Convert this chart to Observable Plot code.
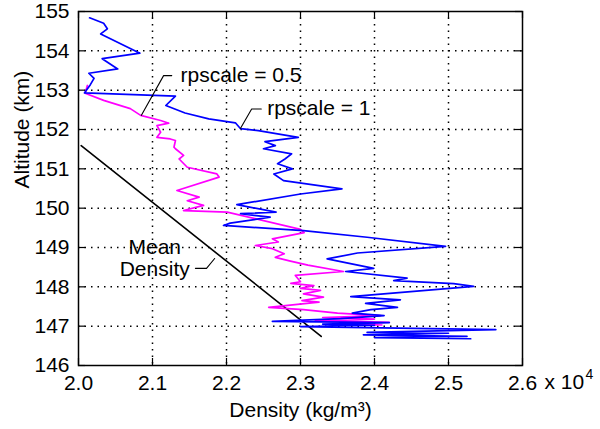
<!DOCTYPE html>
<html>
<head>
<meta charset="utf-8">
<script src="https://cdn.jsdelivr.net/npm/d3@7"></script>
<script src="https://cdn.jsdelivr.net/npm/@observablehq/plot@0.6"></script>
<style>
  html, body { margin: 0; padding: 0; background: white; }
</style>
</head>
<body>
<div id="chart"></div>
<script>
// Tick values
const xTicks = [2.0, 2.1, 2.2, 2.3, 2.4, 2.5, 2.6];
const yTicks = [146, 147, 148, 149, 150, 151, 152, 153, 154, 155];
const xGrid = [2.1, 2.2, 2.3, 2.4, 2.5];
const yGrid = [147, 148, 149, 150, 151, 152, 153, 154];

// rpscale = 1 (blue) : density (x10^4 kg/m^3), altitude (km)
const blueDensity = [2.015,2.034,2.039,2.030,2.083,2.032,2.053,2.014,2.021,2.016,2.008,
  2.131,2.118,2.144,2.176,2.212,2.219,2.243,2.297,2.252,2.266,2.250,2.288,2.279,2.269,
  2.289,2.264,2.277,2.356,2.300,2.214,2.267,2.219,2.259,2.205,2.196,2.304,2.390,2.496,
  2.377,2.336,2.399,2.361,2.444,2.426,2.507,2.534,2.368,2.435,2.388,2.431,2.395,2.370,
  2.413,2.354,2.262,2.420,2.330,2.400,2.300,2.564,2.390,2.500,2.385,2.525,2.400,2.530];
const blueAltitude = [154.84,154.70,154.56,154.43,153.94,153.80,153.54,153.43,153.30,153.14,152.93,
  152.85,152.61,152.42,152.27,152.17,152.02,151.97,151.80,151.69,151.59,151.51,151.38,151.25,151.13,
  151.00,150.87,150.70,150.49,150.36,150.09,149.90,149.86,149.77,149.62,149.56,149.43,149.26,149.03,
  148.86,148.71,148.47,148.39,148.22,148.16,148.08,148.01,147.75,147.67,147.58,147.48,147.42,147.33,
  147.27,147.19,147.12,147.09,147.05,147.02,146.99,146.91,146.84,146.82,146.78,146.74,146.71,146.68];

// rpscale = 0.5 (magenta)
const magentaDensity = [2.012,2.009,2.034,2.070,2.084,2.111,2.122,2.106,2.111,2.106,2.124,2.131,
  2.129,2.131,2.142,2.136,2.147,2.187,2.190,2.133,2.163,2.147,2.169,2.142,2.201,2.300,2.305,
  2.262,2.270,2.239,2.262,2.278,2.266,2.285,2.310,2.358,2.293,2.300,2.287,2.318,2.300,2.327,
  2.304,2.331,2.302,2.325,2.257,2.304,2.350,2.408,2.330,2.400,2.320,2.420,2.360,2.410];
const magentaAltitude = [153.12,152.92,152.74,152.53,152.36,152.23,152.16,152.10,151.93,151.80,151.76,151.72,
  151.55,151.51,151.34,151.25,151.04,150.87,150.79,150.45,150.28,150.19,150.07,149.94,149.90,149.46,149.38,
  149.22,149.14,149.05,148.97,148.84,148.75,148.66,148.55,148.39,148.29,148.13,148.09,148.03,147.96,147.91,
  147.82,147.74,147.65,147.61,147.48,147.42,147.33,147.27,147.22,147.18,147.14,147.10,147.06,147.03];

// Mean density (black)
const meanDensity = [2.0036, 2.328];
const meanAltitude = [151.59, 146.74];

// Annotation labels and leader lines (data coordinates)
const labelRp05 = "rpscale = 0.5";
const labelRp1 = "rpscale = 1";
const labelMean = ["Mean", "Density"];
const leaderRp05 = [[2.126,153.37],[2.115,153.37],[2.085,152.36]];
const leaderRp1 = [[2.247,152.52],[2.234,152.52],[2.219,152.03]];
const leaderMean = [[2.158,148.47],[2.173,148.47],[2.184,148.72]];

const toRows = (xs, ys) => xs.map((x, i) => ({x, y: ys[i]}));
const blue = toRows(blueDensity, blueAltitude);
const magenta = toRows(magentaDensity, magentaAltitude);
const mean = toRows(meanDensity, meanAltitude);

const innerW = 600 - 78 - 78;
const innerH = 429 - 11 - 64;

const chart = Plot.plot({
  width: 600,
  height: 429,
  marginLeft: 78,
  marginRight: 78,
  marginTop: 11,
  marginBottom: 64,
  x: {domain: [2.0, 2.6]},
  y: {domain: [146, 155]},
  style: {fontFamily: "'Liberation Sans', Arial, sans-serif", fontSize: "21px", background: "white", color: "black"},
  marks: [
    Plot.gridX(xGrid, {stroke: "black", strokeOpacity: 1, strokeWidth: 1.5, strokeDasharray: "1.5,5"}),
    Plot.gridY(yGrid, {stroke: "black", strokeOpacity: 1, strokeWidth: 1.5, strokeDasharray: "1.5,5"}),
    Plot.line(mean, {x: "x", y: "y", stroke: "black", strokeWidth: 1.6}),
    Plot.line(magenta, {x: "x", y: "y", stroke: "#ff00ff", strokeWidth: 1.7}),
    Plot.line(blue, {x: "x", y: "y", stroke: "#0000ff", strokeWidth: 1.7}),
    Plot.line(leaderRp05, {x: d => d[0], y: d => d[1], stroke: "black", strokeWidth: 1.1}),
    Plot.line(leaderRp1, {x: d => d[0], y: d => d[1], stroke: "black", strokeWidth: 1.1}),
    Plot.line(leaderMean, {x: d => d[0], y: d => d[1], stroke: "black", strokeWidth: 1.1}),
    Plot.text([labelRp05], {x: 2.138, y: 153.37, text: d => d, textAnchor: "start", fill: "black"}),
    Plot.text([labelRp1], {x: 2.255, y: 152.53, text: d => d, textAnchor: "start", fill: "black"}),
    Plot.text([labelMean[0]], {x: 2.103, y: 149.0, text: d => d, textAnchor: "middle", fill: "black"}),
    Plot.text([labelMean[1]], {x: 2.103, y: 148.44, text: d => d, textAnchor: "middle", fill: "black"}),
    Plot.frame({stroke: "black", strokeWidth: 1.5}),
    Plot.tickX(xTicks, {x: d => d, insetTop: innerH - 7, stroke: "black", strokeWidth: 1.2}),
    Plot.tickX(xTicks, {x: d => d, insetBottom: innerH - 7, stroke: "black", strokeWidth: 1.2}),
    Plot.tickY(yTicks, {y: d => d, insetRight: innerW - 7, stroke: "black", strokeWidth: 1.2}),
    Plot.tickY(yTicks, {y: d => d, insetLeft: innerW - 7, stroke: "black", strokeWidth: 1.2}),
    Plot.axisX({ticks: xTicks, tickSize: 0, tickPadding: 10, tickFormat: d => d.toFixed(1), label: null}),
    Plot.axisY({ticks: yTicks, tickSize: 0, tickPadding: 9, tickFormat: d => String(d), label: null}),
    Plot.text(["x 10"], {x: 2.6, y: 146, text: d => d, textAnchor: "start", dx: 22, dy: 17, fill: "black"}),
    Plot.text(["4"], {x: 2.6, y: 146, text: d => d, textAnchor: "start", dx: 63, dy: 9, fontSize: 14, fill: "black"}),
    Plot.text(["Density (kg/m³)"], {frameAnchor: "bottom", text: d => d, dy: 51, fill: "black"}),
    Plot.text(["Altitude (km)"], {frameAnchor: "left", text: d => d, rotate: -90, dx: -56, fill: "black"})
  ]
});
document.getElementById("chart").appendChild(chart);
</script>
</body>
</html>
